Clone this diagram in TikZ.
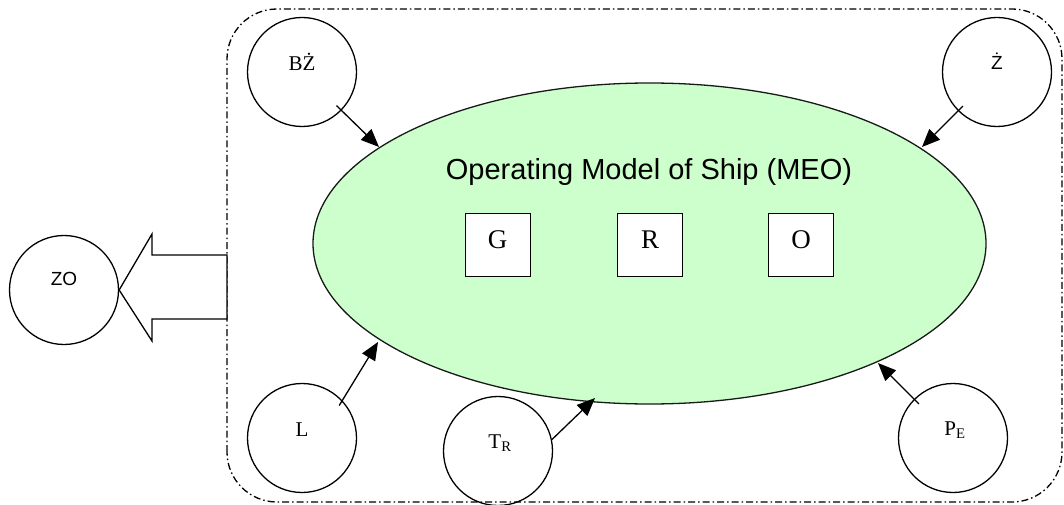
\documentclass[tikz,border=0pt]{standalone}
\usepackage{fontspec}
\setmainfont{Liberation Serif}
\newfontfamily\arialf{Liberation Sans}
\usetikzlibrary{arrows.meta,calc,shapes.geometric}
\definecolor{meogreen}{HTML}{CCFFCC}
\tikzset{
  circ/.style={circle,draw=black,line width=1.3pt,minimum size=109pt,inner sep=0pt},
  serlab/.style={font=\fontsize{21}{21}\selectfont,inner sep=0pt},
  sanslab/.style={font=\arialf\fontsize{19}{19}\selectfont,inner sep=0pt},
  sqbox/.style={draw=black,line width=1pt,fill=white,minimum width=65pt,minimum height=63pt,inner sep=0pt},
  boxlab/.style={font=\fontsize{27}{27}\selectfont,inner sep=0pt,anchor=base},
  arr/.style={line width=1.3pt,-{Triangle[length=18pt,width=15pt]}},
  frame/.style={line width=1.3pt,dash pattern=on 7pt off 3pt on 1.5pt off 3pt,rounded corners=50pt},
}
\begin{document}
\begin{tikzpicture}[x=1pt,y=1pt]
\useasboundingbox (0,0) rectangle (1064,504);
% outer dash-dot frame
\draw[frame] (227,2) rectangle (1062,495);
% ellipse
\node[ellipse,draw=black!90,line width=1.3pt,fill=meogreen,minimum width=673pt,minimum height=321pt,inner sep=0pt] (MEO) at (649.5,260.5) {};
\node[font=\arialf\fontsize{29}{29}\selectfont,anchor=base,inner sep=0pt] (title) at (649,324) {Operating Model of Ship (MEO)};
% boxes
\node[sqbox] (G) at (497.5,259.5) {};
\node[sqbox] (R) at (650,259.5) {};
\node[sqbox] (O) at (801,259.5) {};
\node[boxlab] (Gl) at (497.5,256) {G};
\node[boxlab] (Rl) at (650,256) {R};
\node[boxlab] (Ol) at (801,256) {O};
% circles
\node[circ] (BZ) at (302,432) {};
\node[circ] (Z) at (997,432) {};
\node[circ] (L) at (302,66) {};
\node[circ] (TR) at (498,53) {};
\node[circ] (PE) at (953,66) {};
\node[circ] (ZO) at (64,214) {};
\node[serlab] (BZl) at (302,442) {BŻ};
\node[sanslab] (Zl) at (997,443) {Ż};
\node[serlab] (Ll) at (302,74) {L};
\node[serlab] (TRl) at (500,61) {T\textsubscript{R}};
\node[serlab] (PEl) at (955,74) {P\textsubscript{E}};
\node[sanslab] (ZOl) at (64,225) {ZO};
% arrow tips on ellipse
\coordinate (tBZ) at (379,357);
\coordinate (tZ) at (922,357);
\coordinate (tL) at (378,162);
\coordinate (tTR) at (595,106);
\coordinate (tPE) at (878,141);
\draw[arr,shorten <=-7pt] (BZ) -- (tBZ);
\draw[arr,shorten <=-7pt] (Z) -- (tZ);
\draw[arr,shorten <=-6pt] (L.43) -- (tL);
\draw[arr] (TR.12) -- (tTR);
\draw[arr,shorten <=-7pt] (PE.135) -- (tPE);
% big hollow arrow to ZO
\draw[line width=1.3pt,fill=white,line join=miter] (227,249) -- (152,249) -- (152,270) -- (ZO.east) -- (152,163) -- (152,185) -- (227,185) -- cycle;
\end{tikzpicture}
\end{document}
